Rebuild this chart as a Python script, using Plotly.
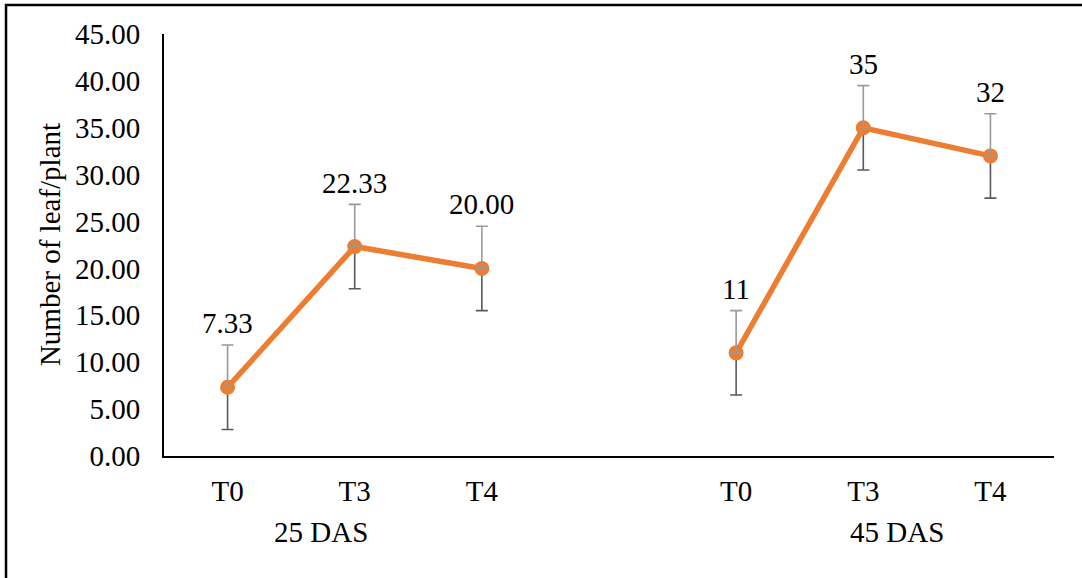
import plotly.graph_objects as go

# Treatments and sampling stages
treatments = ["T0", "T3", "T4"]
stages = ["25 DAS", "45 DAS"]

# Mean number of leaves per plant and error (±)
leaf_25das = [7.33, 22.33, 20.00]
leaf_45das = [11, 35, 32]
err_25das = [4.5, 4.5, 4.5]
err_45das = [4.5, 4.5, 4.5]

y_ticks = [0, 5, 10, 15, 20, 25, 30, 35, 40, 45]

ORANGE = "#ED7D31"
FONT = "Liberation Serif"
FS = 29

# category slots: one blank slot separates the two stages
x_25 = [0, 1, 2]
x_45 = [4, 5, 6]

fig = go.Figure()

groups = [
    (x_25, leaf_25das, err_25das, "{:.2f}"),
    (x_45, leaf_45das, err_45das, "{:.0f}"),
]

for xs, ys, es, fmt in groups:
    # lower half of the error bars (sits beneath the markers)
    fig.add_trace(go.Scatter(
        x=xs, y=ys, mode="markers", marker=dict(opacity=0),
        error_y=dict(type="data", array=[0] * len(es), arrayminus=es,
                     color="#595959", thickness=1.6, width=6),
        hoverinfo="skip", showlegend=False))
    # the line with markers
    fig.add_trace(go.Scatter(
        x=xs, y=ys, mode="lines+markers",
        line=dict(color=ORANGE, width=5.5),
        marker=dict(color=ORANGE, size=15),
        showlegend=False))
    # upper half of the error bars (drawn over the markers)
    fig.add_trace(go.Scatter(
        x=xs, y=ys, mode="markers", marker=dict(opacity=0),
        error_y=dict(type="data", array=es, arrayminus=[0] * len(es),
                     color="#999999", thickness=1.6, width=6),
        hoverinfo="skip", showlegend=False))
    # value labels above each point
    for x, y in zip(xs, ys):
        fig.add_annotation(x=x, y=y, text=fmt.format(y), showarrow=False,
                           yshift=64, yanchor="middle",
                           font=dict(family=FONT, size=FS, color="black"))

# stage labels under the treatment labels
fig.add_annotation(x=1, y=-0.18, xref="x", yref="paper", text=stages[0],
                   showarrow=False, xanchor="right", yanchor="middle", xshift=15,
                   font=dict(family=FONT, size=FS, color="black"))
fig.add_annotation(x=5, y=-0.18, xref="x", yref="paper", text=stages[1],
                   showarrow=False, xanchor="left", yanchor="middle", xshift=-15,
                   font=dict(family=FONT, size=FS, color="black"))

# y-axis title
fig.add_annotation(x=-0.128, y=0.5, xref="paper", yref="paper",
                   xanchor="center", yanchor="middle",
                   text="Number of leaf/plant", textangle=-90, showarrow=False,
                   font=dict(family=FONT, size=FS, color="black"))

# outer frame
fig.add_shape(type="rect", xref="paper", yref="paper",
              x0=-0.1775, x1=1.1, y0=-0.35, y1=1.0687,
              line=dict(color="black", width=2.5), fillcolor="rgba(0,0,0,0)")

fig.update_layout(
    width=1082, height=578,
    margin=dict(l=164, r=28, t=34, b=122),
    paper_bgcolor="white", plot_bgcolor="white",
    font=dict(family=FONT, size=FS, color="black"),
    xaxis=dict(
        range=[-0.5, 6.5],
        tickvals=x_25 + x_45, ticktext=treatments + treatments,
        showgrid=False, zeroline=False, showline=True,
        linecolor="black", linewidth=2, ticks="",
        ticklabelstandoff=8, tickfont=dict(family=FONT, size=FS, color="black"),
    ),
    yaxis=dict(
        range=[0, 45], tickvals=y_ticks, tickformat=".2f",
        showgrid=False, zeroline=False, showline=True,
        linecolor="black", linewidth=2, ticks="",
        ticklabelstandoff=16, tickfont=dict(family=FONT, size=FS, color="black"),
    ),
)

fig.write_html("out.html")
